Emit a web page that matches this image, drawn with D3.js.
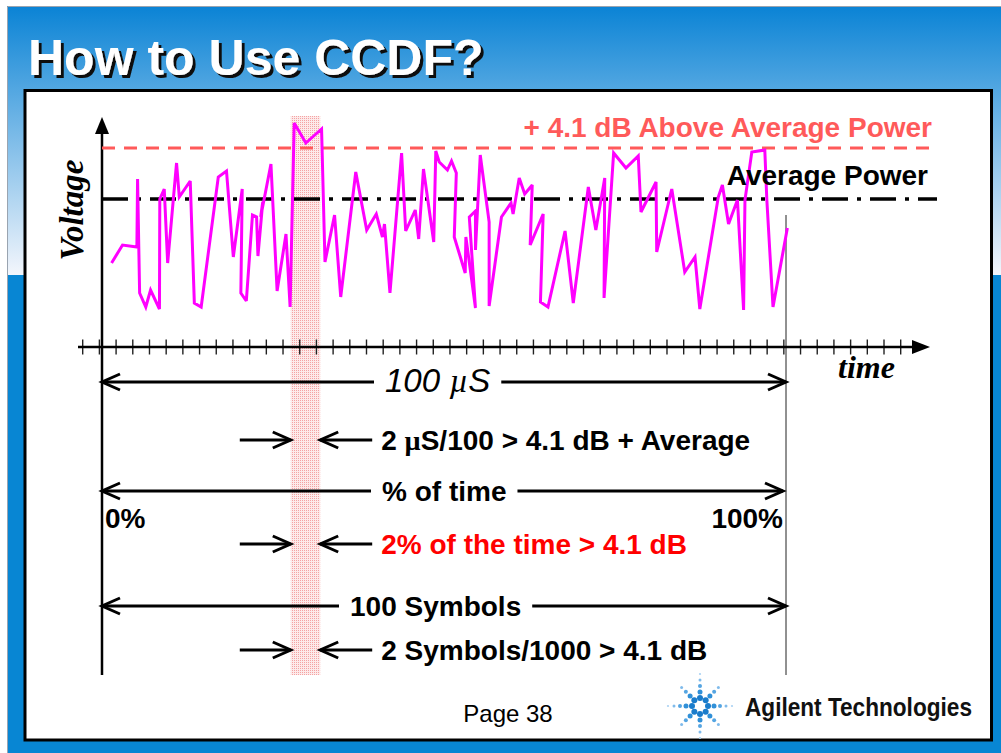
<!DOCTYPE html>
<html>
<head>
<meta charset="utf-8">
<script src="https://cdn.jsdelivr.net/npm/d3@7"></script>
<style>
  html, body { margin: 0; padding: 0; background: #fff; overflow: hidden; }
  svg { display: block; }
</style>
</head>
<body>
<svg id="slide" width="1001" height="753"></svg>
<script>
// Envelope voltage of the modulated signal over one 100 µs record.
// Time in µs, voltage in arbitrary linear units.
const waveTime = [
  1.4, 3.0, 5.1, 5.2, 5.5, 6.4, 7.1, 8.4, 8.45, 9.1, 9.6, 10.9, 11.3, 12.9, 13.5, 14.5,
  17.0, 18.2, 19.2, 20.5, 20.3, 21.1, 22.0, 22.6, 22.8, 23.5, 23.2, 24.7, 25.6, 26.9, 27.5,
  28.1, 29.8, 32.1, 32.6, 34.0, 34.9, 37.1, 38.7, 40.1, 41.0, 41.3, 42.1, 43.8, 44.4, 45.8,
  46.3, 47.0, 48.5, 48.8, 49.3, 50.5, 51.1, 51.8, 51.5, 53.1, 53.2, 54.6, 53.7, 54.6, 54.6,
  55.3, 56.6, 56.6, 58.4, 59.8, 60.1, 61.0, 61.8, 62.9, 62.6, 64.5, 64.1, 65.2, 67.7, 68.9,
  71.1, 72.2, 73.5, 73.4, 74.8, 76.6, 78.4, 78.8, 81.0, 81.1, 83.3, 85.2, 86.7, 87.4, 90.1,
  90.7, 91.6, 92.9, 93.8, 94.0, 95.0, 96.9, 97.2, 98.1, 100.2
];
const waveVolt = [
  4.2, 5.1, 5.0, 8.4, 2.7, 2.0, 2.85, 1.9, 7.4, 7.9, 4.2, 9.2, 7.5, 8.3, 2.2, 2.0,
  8.5, 8.8, 4.5, 7.9, 2.7, 2.3, 6.6, 6.5, 4.55, 7.25, 6.5, 9.15, 2.8, 5.65, 2.0,
  11.2, 10.2, 10.9, 4.25, 6.6, 2.5, 8.75, 5.85, 6.65, 5.5, 6.15, 2.7, 9.7, 5.8, 6.85,
  5.4, 8.9, 5.25, 9.8, 9.25, 8.85, 9.3, 8.7, 5.5, 3.7, 5.5, 1.95, 6.5, 6.8, 4.85,
  9.6, 6.25, 2.05, 6.5, 7.2, 6.65, 8.45, 7.65, 8.1, 5.1, 6.65, 2.25, 2.0, 5.8, 2.2,
  8.0, 5.85, 8.45, 2.45, 9.7, 8.95, 9.55, 6.75, 8.25, 4.75, 7.9, 3.75, 4.5, 1.9, 7.5,
  8.1, 6.15, 7.35, 1.85, 7.35, 9.75, 9.85, 7.35, 2.0, 5.95
];

// Reference levels (same voltage units)
const averageLevel = 7.4;
const peakLevel = 9.95;

// Interval in which the envelope exceeds the +4.1 dB level (µs)
const exceedStart = 27.6;
const exceedEnd = 31.9;

// Minor tick marks along the time axis
const timeTickCount = 50;

// Texts
const titleText = "How to Use CCDF?";
const peakLabel = "+ 4.1 dB Above Average Power";
const averageLabel = "Average Power";
const yAxisLabel = "Voltage";
const xAxisLabel = "time";
const spanLabels = ["100 µS", "% of time", "100 Symbols"];
const exceedLabels = ["2 µS/100 > 4.1 dB + Average", "2% of the time > 4.1 dB", "2 Symbols/1000 > 4.1 dB"];
const percentLabels = ["0%", "100%"];
const pageLabel = "Page 38";
const companyLabel = "Agilent Technologies";

// ---------------------------------------------------------------------------
const svg = d3.select("#slide");
const defs = svg.append("defs");

const SANS = "'Liberation Sans', Arial, Helvetica, sans-serif";
const SERIF = "'Liberation Serif', 'Times New Roman', serif";

// Slide background: blue fading to white at the top, solid blue below
const grad = defs.append("linearGradient")
  .attr("id", "topFade").attr("gradientUnits", "userSpaceOnUse")
  .attr("x1", 0).attr("y1", 6).attr("x2", 0).attr("y2", 275);
grad.append("stop").attr("offset", 0).attr("stop-color", "#0a83d5");
grad.append("stop").attr("offset", 1).attr("stop-color", "#f3f6fc");

// Hard drop shadow for the title
const shadow = defs.append("filter").attr("id", "titleShadow")
  .attr("x", "-5%").attr("y", "-20%").attr("width", "110%").attr("height", "140%");
shadow.append("feOffset").attr("in", "SourceAlpha").attr("dx", 3).attr("dy", 3).attr("result", "off");
shadow.append("feFlood").attr("flood-color", "#111").attr("result", "col");
shadow.append("feComposite").attr("in", "col").attr("in2", "off").attr("operator", "in").attr("result", "sh");
const merge = shadow.append("feMerge");
merge.append("feMergeNode").attr("in", "sh");
merge.append("feMergeNode").attr("in", "SourceGraphic");

svg.append("rect").attr("x", 7).attr("y", 6).attr("width", 994).attr("height", 269)
  .attr("fill", "url(#topFade)");
svg.append("rect").attr("x", 7).attr("y", 275).attr("width", 994).attr("height", 478)
  .attr("fill", "#0886d3");
svg.append("path").attr("d", "M7.5,753 V6.5 H1001")
  .attr("fill", "none").attr("stroke", "#9aa4b0").attr("stroke-width", 1);

// Title
svg.append("text").attr("x", 28).attr("y", 75).text(titleText)
  .attr("font-family", SANS).attr("font-weight", "bold").attr("font-size", 50)
  .attr("fill", "#fff").attr("filter", "url(#titleShadow)");

// White content panel
svg.append("rect").attr("x", 25).attr("y", 90.5).attr("width", 966.5).attr("height", 649.5)
  .attr("fill", "#fff").attr("stroke", "#000").attr("stroke-width", 3);

// Scales
const x = d3.scaleLinear().domain([0, 100]).range([102, 786]);
const y = d3.scaleLinear().domain([0, 10]).range([347, 147]);
const tickX = d3.scaleLinear().domain([0, timeTickCount - 1]).range([82.7, 900.7]);

const axisY = y(0);
const bottomY = 675;

// Highlighted interval (stippled pink band)
const pat = defs.append("pattern").attr("id", "stipple")
  .attr("patternUnits", "userSpaceOnUse").attr("width", 2).attr("height", 2);
pat.append("rect").attr("width", 2).attr("height", 2).attr("fill", "#fdeaea");
pat.append("rect").attr("width", 1).attr("height", 1).attr("fill", "#f4a3a3");

svg.append("rect")
  .attr("x", x(exceedStart)).attr("y", 116)
  .attr("width", x(exceedEnd) - x(exceedStart)).attr("height", bottomY - 116)
  .attr("fill", "url(#stipple)");

// End-of-record marker
svg.append("line")
  .attr("x1", x(100)).attr("x2", x(100)).attr("y1", 215).attr("y2", bottomY)
  .attr("stroke", "#222").attr("stroke-width", 1);

// Time axis ticks
svg.append("g").selectAll("line").data(d3.range(timeTickCount)).join("line")
  .attr("x1", d => tickX(d)).attr("x2", d => tickX(d))
  .attr("y1", axisY - 7.5).attr("y2", axisY + 7.5)
  .attr("stroke", "#222").attr("stroke-width", 1.4);

// Time axis with arrow
svg.append("line").attr("x1", 78).attr("x2", 915).attr("y1", axisY).attr("y2", axisY)
  .attr("stroke", "#000").attr("stroke-width", 2.5);
svg.append("path")
  .attr("d", `M930,${axisY} L912,${axisY - 7} L912,${axisY + 7} Z`).attr("fill", "#000");

// Voltage axis with arrow
svg.append("line").attr("x1", x(0)).attr("x2", x(0)).attr("y1", 130).attr("y2", bottomY)
  .attr("stroke", "#000").attr("stroke-width", 2.5);
svg.append("path")
  .attr("d", `M${x(0)},117 L${x(0) - 7},134 L${x(0) + 7},134 Z`).attr("fill", "#000");

// Reference levels
svg.append("line").attr("x1", x(0)).attr("x2", 937).attr("y1", y(peakLevel)).attr("y2", y(peakLevel))
  .attr("stroke", "#ff5a5a").attr("stroke-width", 3).attr("stroke-dasharray", "13 9");
svg.append("line").attr("x1", x(0)).attr("x2", 937).attr("y1", y(averageLevel)).attr("y2", y(averageLevel))
  .attr("stroke", "#000").attr("stroke-width", 3.5).attr("stroke-dasharray", "26 9 4 9");

// Envelope trace
const wave = d3.zip(waveTime, waveVolt);
svg.append("path")
  .datum(wave)
  .attr("d", d3.line().x(d => x(d[0])).y(d => y(d[1])))
  .attr("fill", "none").attr("stroke", "#ff00ff").attr("stroke-width", 3)
  .attr("stroke-linejoin", "miter").attr("stroke-miterlimit", 3);

// Level labels
svg.append("text").attr("x", 932).attr("y", 137).attr("text-anchor", "end").text(peakLabel)
  .attr("font-family", SANS).attr("font-weight", "bold").attr("font-size", 28).attr("fill", "#ff5a5a");
svg.append("text").attr("x", 928).attr("y", 185).attr("text-anchor", "end").text(averageLabel)
  .attr("font-family", SANS).attr("font-weight", "bold").attr("font-size", 28).attr("fill", "#000");

// Axis titles
svg.append("text").attr("transform", "translate(83,210) rotate(-90)")
  .attr("text-anchor", "middle").text(yAxisLabel)
  .attr("font-family", SERIF).attr("font-weight", "bold").attr("font-style", "italic")
  .attr("font-size", 33).attr("fill", "#000");
svg.append("text").attr("x", 838).attr("y", 378).text(xAxisLabel)
  .attr("font-family", SERIF).attr("font-weight", "bold").attr("font-style", "italic")
  .attr("font-size", 32).attr("fill", "#000");

// Annotation helpers
const ann = svg.append("g").attr("stroke", "#000").attr("stroke-width", 3)
  .attr("fill", "none").attr("stroke-linecap", "butt");

function chevron(tipX, yy, dir) {
  ann.append("path")
    .attr("d", `M${tipX - dir * 18},${yy - 8} L${tipX},${yy} L${tipX - dir * 18},${yy + 8}`);
}
function hline(x1, x2, yy) {
  ann.append("line").attr("x1", x1).attr("x2", x2).attr("y1", yy).attr("y2", yy);
}
function label(txt, xx, yy, opts) {
  const t = svg.append("text").attr("x", xx).attr("y", yy)
    .attr("font-family", SANS).attr("font-size", opts.size || 28)
    .attr("font-weight", opts.weight || "bold")
    .attr("font-style", opts.style || "normal")
    .attr("fill", opts.fill || "#000")
    .attr("text-anchor", opts.anchor || "start");
  // Greek mu drawn from the serif face, the rest in sans
  const parts = txt.split("µ");
  parts.forEach((p, i) => {
    if (i > 0) t.append("tspan").attr("font-family", SERIF).text("µ");
    if (p) t.append("tspan").text(p);
  });
  return t;
}

// Full-span annotation: <—— label ——>
const spanRows = [382, 491, 606];
const spanTextX = [385, 382, 350];
const spanEnds = [x(100), 783, x(100)];
spanLabels.forEach((s, i) => {
  const yy = spanRows[i];
  const t = i === 0
    ? label(s, spanTextX[i], yy + 10, { size: 33, weight: "normal", style: "italic" })
    : label(s, spanTextX[i], yy + 9.5, {});
  const w = t.node().getComputedTextLength();
  hline(x(0), spanTextX[i] - 11, yy);
  hline(spanTextX[i] + w + 11, spanEnds[i], yy);
  chevron(x(0), yy, -1);
  chevron(spanEnds[i], yy, 1);
});

// Exceedance annotation: —> | band | <— label
const exceedRows = [440, 544, 650];
const exceedColors = ["#000", "#ff0000", "#000"];
exceedLabels.forEach((s, i) => {
  const yy = exceedRows[i];
  const a = x(exceedStart), b = x(exceedEnd);
  hline(a - 51, a, yy); chevron(a, yy, 1);
  hline(b, b + 52, yy); chevron(b, yy, -1);
  label(s, b + 61, yy + 9.5, { fill: exceedColors[i] });
});

// Percent ends
label(percentLabels[0], 105, 528, {});
label(percentLabels[1], 783, 528, { anchor: "end" });

// Footer
svg.append("text").attr("x", 508).attr("y", 722).attr("text-anchor", "middle").text(pageLabel)
  .attr("font-family", SANS).attr("font-size", 24).attr("fill", "#000");

// Company mark: spark of dots around an open centre
const logo = svg.append("g").attr("transform", "translate(700,706)");
const rayDist = [8, 14, 20, 26, 32];
const rayRad = [3.0, 2.5, 2.0, 1.5, 1.1];
const rayCol = ["#1a7ccb", "#3090d8", "#55a5e2", "#80bbeb", "#aad2f3"];
d3.range(8).forEach(k => {
  const ang = k * Math.PI / 4;
  const n = (k % 2 === 0) ? 5 : 4;
  for (let j = 0; j < n; j++) {
    logo.append("circle")
      .attr("cx", Math.cos(ang) * rayDist[j]).attr("cy", Math.sin(ang) * rayDist[j])
      .attr("r", rayRad[j]).attr("fill", rayCol[j]);
  }
});
svg.append("text").attr("transform", "translate(745,716) scale(0.87,1)").text(companyLabel)
  .attr("font-family", SANS)
  .attr("font-weight", "bold").attr("font-size", 26).attr("fill", "#111");
</script>
</body>
</html>
